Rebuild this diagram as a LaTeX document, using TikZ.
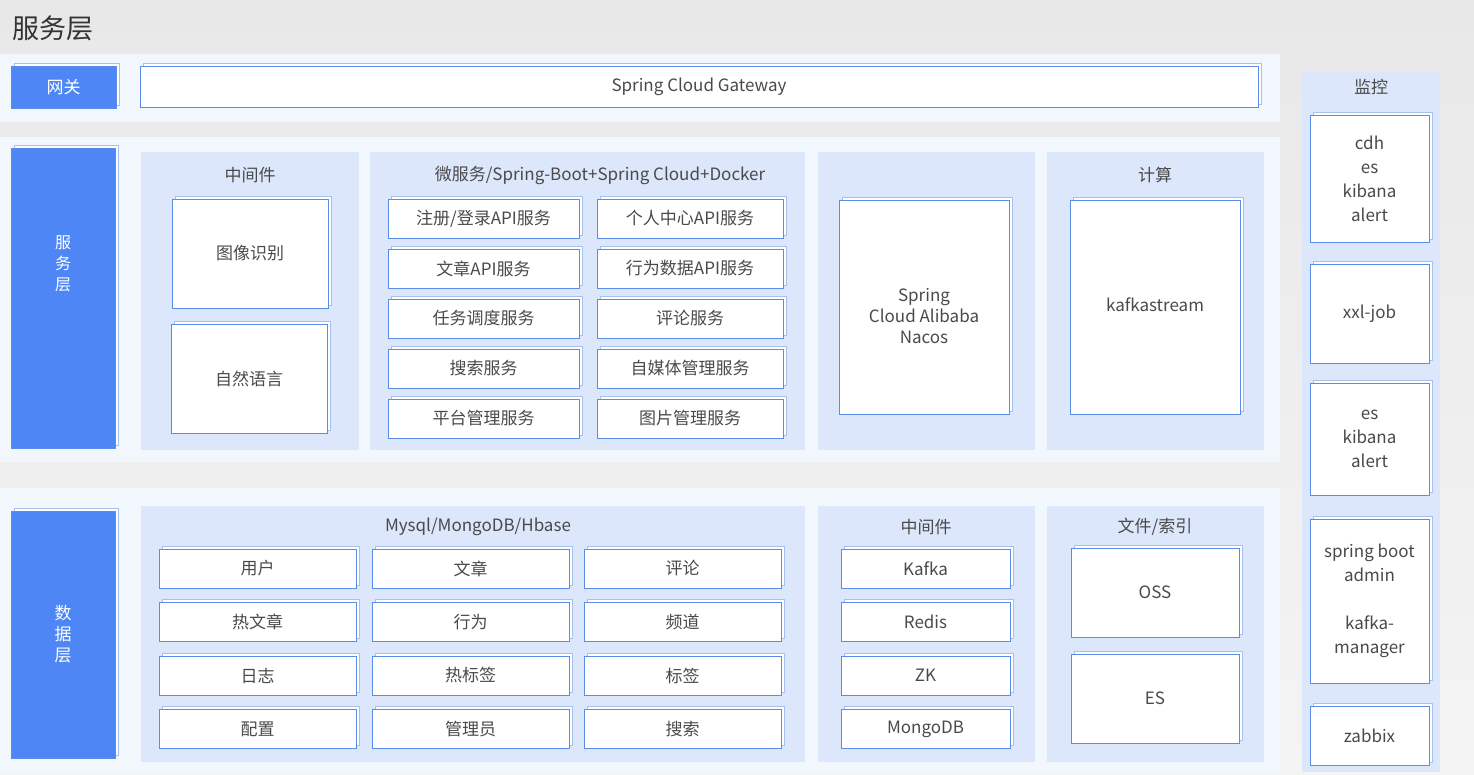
\documentclass[tikz,border=0pt]{standalone}
\usepackage{fontspec}
\setmainfont{Noto Sans CJK SC}
\usetikzlibrary{shadows}
\definecolor{bgtop}{HTML}{E8E8E8}
\definecolor{bgbot}{HTML}{F4F4F4}
\definecolor{band}{HTML}{F2F6FD}
\definecolor{panel}{HTML}{DCE7FB}
\definecolor{tagblue}{HTML}{4E87F5}
\definecolor{edge}{HTML}{5A8DE8}
\definecolor{faceedge}{HTML}{A5C1F2}
\definecolor{ink}{HTML}{4A4A4A}
\tikzset{
  box3d/.style={copy shadow={shadow xshift=3pt, shadow yshift=3pt, opacity=1,
      fill=white, draw=faceedge, line width=.6pt}},
  blk/.style={box3d, draw=edge, fill=white, line width=.9pt, inner sep=0pt,
      align=center, text=ink},
  tag/.style={box3d, draw=edge, fill=tagblue, line width=.6pt, inner sep=0pt,
      align=center, text=white},
  panelbox/.style={fill=panel, draw=none},
  head/.style={text=ink},
}
\begin{document}
\begin{tikzpicture}[x=1pt,y=-1pt, every node/.style={font=\fontsize{17}{21}\selectfont}]
  \useasboundingbox (0,0) rectangle (1474,775);
  \fill[top color=bgtop, bottom color=bgbot] (0,0) rectangle (1474,775);
  \node[anchor=west, text=black!80, font=\fontsize{27}{30}\selectfont] (title) at (9,28) {服务层};
  % bands
  \fill[band] (0,54) rectangle (1280,122);
  \fill[band] (0,137) rectangle (1280,462);
  \fill[band] (0,488) rectangle (1280,773);
  % gateway
  \node[tag, minimum width=105, minimum height=42] (gwTag) at (63.5,87) {网关};
  \node[blk, minimum width=1118, minimum height=41] (gateway) at (699,86.5) {Spring Cloud Gateway};
  % service layer
  \node[tag, minimum width=104, minimum height=300] (svcTag) at (63,298) {};
  \node[text=white, align=center, font=\fontsize{16}{21}\selectfont] (svcName) at (63,264) {服\\务\\层};
  \fill[panelbox] (141,152) rectangle (359,450);
  \fill[panelbox] (370,152) rectangle (805,450);
  \fill[panelbox] (818,152) rectangle (1035,450);
  \fill[panelbox] (1047,152) rectangle (1264,450);
  \node[head] (midHead) at (250,175) {中间件};
  \node[head] (msHead) at (600,175) {微服务/Spring-Boot+Spring Cloud+Docker};
  \node[head] (calcHead) at (1155,175) {计算};
  \node[blk, minimum width=156, minimum height=109] (img) at (250,253.5) {图像识别};
  \node[blk, minimum width=156, minimum height=109] (nlp) at (249,379) {自然语言};
  \foreach \i/\y/\a/\b in {1/218.5/{注册/登录API服务}/个人中心API服务,
                           2/268.5/文章API服务/行为数据API服务,
                           3/318.5/任务调度服务/评论服务,
                           4/368.5/搜索服务/自媒体管理服务,
                           5/418.5/平台管理服务/图片管理服务} {
    \node[blk, minimum width=191, minimum height=39] (msA\i) at (483.5,\y) {\a};
    \node[blk, minimum width=186, minimum height=39] (msB\i) at (690,\y) {\b};
  }
  \node[blk, minimum width=170, minimum height=214] (nacos) at (924,307) {};
  \node[text=ink, align=center] (nacosName) at (924,316) {Spring\\Cloud Alibaba\\Nacos};
  \node[blk, minimum width=170, minimum height=214] (kstream) at (1155,307) {};
  \node[text=ink] (kstreamName) at (1155,305) {kafkastream};
  % data layer
  \node[tag, minimum width=104, minimum height=247] (dataTag) at (63,634.5) {数\\据\\层};
  \fill[panelbox] (141,506) rectangle (805,762);
  \fill[panelbox] (818,506) rectangle (1035,762);
  \fill[panelbox] (1047,506) rectangle (1264,762);
  \node[head] (dbHead) at (478,527) {Mysql/MongoDB/Hbase};
  \node[head] (mqHead) at (926,527) {中间件};
  \node[head] (fileHead) at (1155,527) {文件/索引};
  \foreach \i/\y/\a/\b/\c in {1/568.5/用户/文章/评论,
                              2/622/热文章/行为/频道,
                              3/675.5/日志/热标签/标签,
                              4/729/配置/管理员/搜索} {
    \node[blk, minimum width=197, minimum height=39] (dbA\i) at (257.5,\y) {\a};
    \node[blk, minimum width=197, minimum height=39] (dbB\i) at (470.5,\y) {\b};
    \node[blk, minimum width=197, minimum height=39] (dbC\i) at (682.5,\y) {\c};
  }
  \foreach \i/\y/\t in {1/568.5/Kafka, 2/622/Redis, 3/675.5/ZK, 4/729/MongoDB}
    \node[blk, minimum width=169, minimum height=39] (mq\i) at (925.5,\y) {\t};
  \node[blk, minimum width=168, minimum height=89] (oss) at (1155,592.5) {OSS};
  \node[blk, minimum width=168, minimum height=89] (es) at (1155,698.5) {ES};
  % monitor
  \fill[panelbox] (1302,71) rectangle (1440,772);
  \node[head] (monHead) at (1371,87) {监控};
  \begin{scope}[every node/.append style={font=\fontsize{17}{24}\selectfont}]
    \node[blk, minimum width=119, minimum height=127] (mon1) at (1369.5,178.5) {cdh\\es\\kibana\\alert};
    \node[blk, minimum width=119, minimum height=99] (mon2) at (1369.5,313.5) {xxl-job};
    \node[blk, minimum width=119, minimum height=112] (mon3) at (1369.5,439) {es\\kibana\\alert};
    \node[blk, minimum width=119, minimum height=164] (mon4) at (1369.5,601) {spring boot\\admin\\[24pt]kafka-\\manager};
    \node[blk, minimum width=119, minimum height=59] (mon5) at (1369.5,735.5) {zabbix};
  \end{scope}
\end{tikzpicture}
\end{document}
